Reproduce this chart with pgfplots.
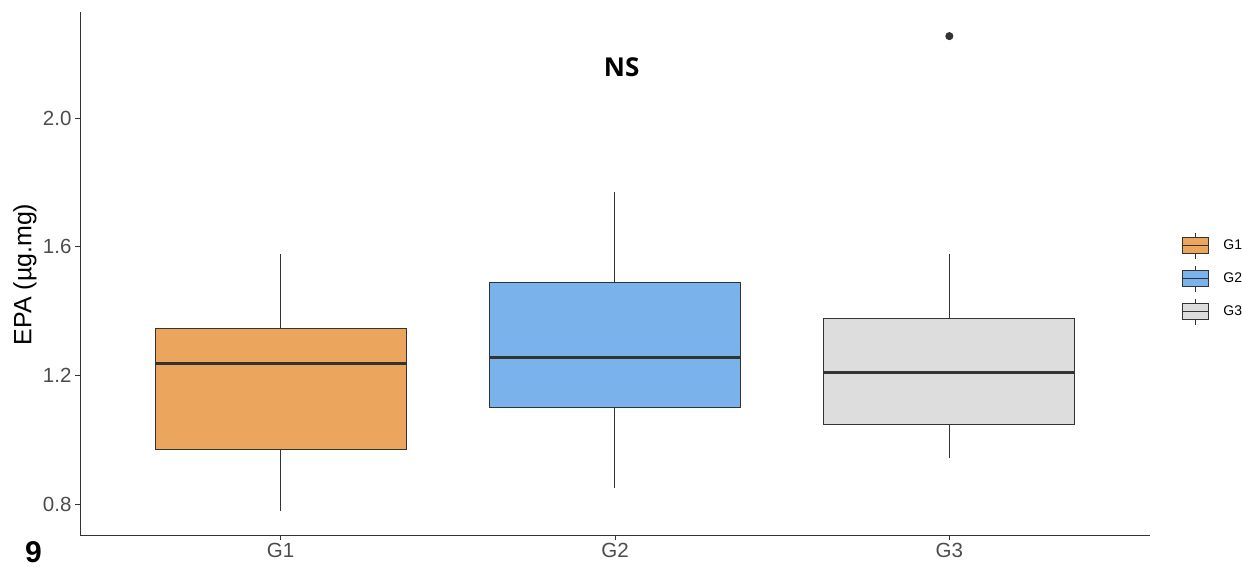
\documentclass[border=0pt]{standalone}
\usepackage{pgfplots}
\pgfplotsset{compat=1.18}
\usepgfplotslibrary{statistics}
\usepackage{fontspec}
\setmainfont{Liberation Sans}
\newfontfamily\nsfont{Open Sans}
\definecolor{cG1}{HTML}{EBA55C}
\definecolor{cG2}{HTML}{7AB2EC}
\definecolor{cG3}{HTML}{DDDDDD}
\definecolor{edge}{HTML}{333333}
\begin{document}
\begin{tikzpicture}
\useasboundingbox (0pt,0pt) rectangle (1242pt,567pt);
\begin{axis}[
  at={(80pt,32pt)}, anchor=south west, scale only axis,
  width=1070pt, height=523pt,
  xmin=0.4, xmax=3.6, ymin=0.704, ymax=2.33,
  axis x line*=bottom, axis y line*=left,
  axis line style={-, draw=edge, line width=0.9pt},
  xtick={1,2,3}, xticklabels={G1,G2,G3},
  ytick={0.8,1.2,1.6,2.0},
  yticklabel style={/pgf/number format/fixed, /pgf/number format/fixed zerofill, /pgf/number format/precision=1},
  /pgf/number format/assume math mode=true,
  tick align=outside, major tick length=5pt,
  tick style={draw=edge, line width=0.8pt},
  ticklabel style={font=\fontsize{20.5}{20.5}\selectfont, text=black!70},
  ylabel={EPA (µg.mg)},
  ylabel style={font=\fontsize{25}{25}\selectfont, at={(axis description cs:-0.0514,0.498)}, anchor=center},
  boxplot/draw direction=y,
  boxplot/every median/.style={line width=2.8pt},
  legend style={at={(1.030,0.49)}, anchor=west, draw=none, fill=none,
    font=\fontsize{14}{14}\selectfont, row sep=6pt, inner sep=0pt,
    /tikz/every odd column/.append style={column sep=12pt}},
  legend cell align=left,
  clip=false,
]
\addplot[boxplot prepared={draw position=1, lower whisker=0.778, lower quartile=0.971, median=1.238, upper quartile=1.347, upper whisker=1.577, box extend=0.75, whisker extend=0},
  fill=cG1, draw=edge, line width=1pt, forget plot] coordinates {};
\addplot[boxplot prepared={draw position=2, lower whisker=0.850, lower quartile=1.099, median=1.257, upper quartile=1.490, upper whisker=1.770, box extend=0.75, whisker extend=0},
  fill=cG2, draw=edge, line width=1pt, forget plot] coordinates {};
\addplot[boxplot prepared={draw position=3, lower whisker=0.943, lower quartile=1.046, median=1.210, upper quartile=1.378, upper whisker=1.577, box extend=0.75, whisker extend=0},
  fill=cG3, draw=edge, line width=1pt, mark=*, mark size=3.5pt, mark options={fill=edge, draw=edge}, forget plot]
  table[row sep=\\, y index=0] {data\\ 2.255\\};
\addlegendimage{legend image code/.code={
  \draw[fill=cG1, draw=edge, line width=1.1pt] (0pt,-8pt) rectangle (26pt,8pt);
  \draw[draw=edge, line width=1.1pt] (0pt,0pt)--(26pt,0pt) (13pt,8pt)--(13pt,13pt) (13pt,-8pt)--(13pt,-13pt);}}
\addlegendentry{G1}
\addlegendimage{legend image code/.code={
  \draw[fill=cG2, draw=edge, line width=1.1pt] (0pt,-8pt) rectangle (26pt,8pt);
  \draw[draw=edge, line width=1.1pt] (0pt,0pt)--(26pt,0pt) (13pt,8pt)--(13pt,13pt) (13pt,-8pt)--(13pt,-13pt);}}
\addlegendentry{G2}
\addlegendimage{legend image code/.code={
  \draw[fill=cG3, draw=edge, line width=1.1pt] (0pt,-8pt) rectangle (26pt,8pt);
  \draw[draw=edge, line width=1.1pt] (0pt,0pt)--(26pt,0pt) (13pt,8pt)--(13pt,13pt) (13pt,-8pt)--(13pt,-13pt);}}
\addlegendentry{G3}
\node[font=\nsfont\bfseries\fontsize{26}{26}\selectfont] at (axis cs:2.02,2.159) {NS};
\end{axis}
\node[anchor=base west, font=\fontsize{30}{30}\selectfont\bfseries, inner sep=0pt] at (25pt,4pt) {9};
\end{tikzpicture}
\end{document}
